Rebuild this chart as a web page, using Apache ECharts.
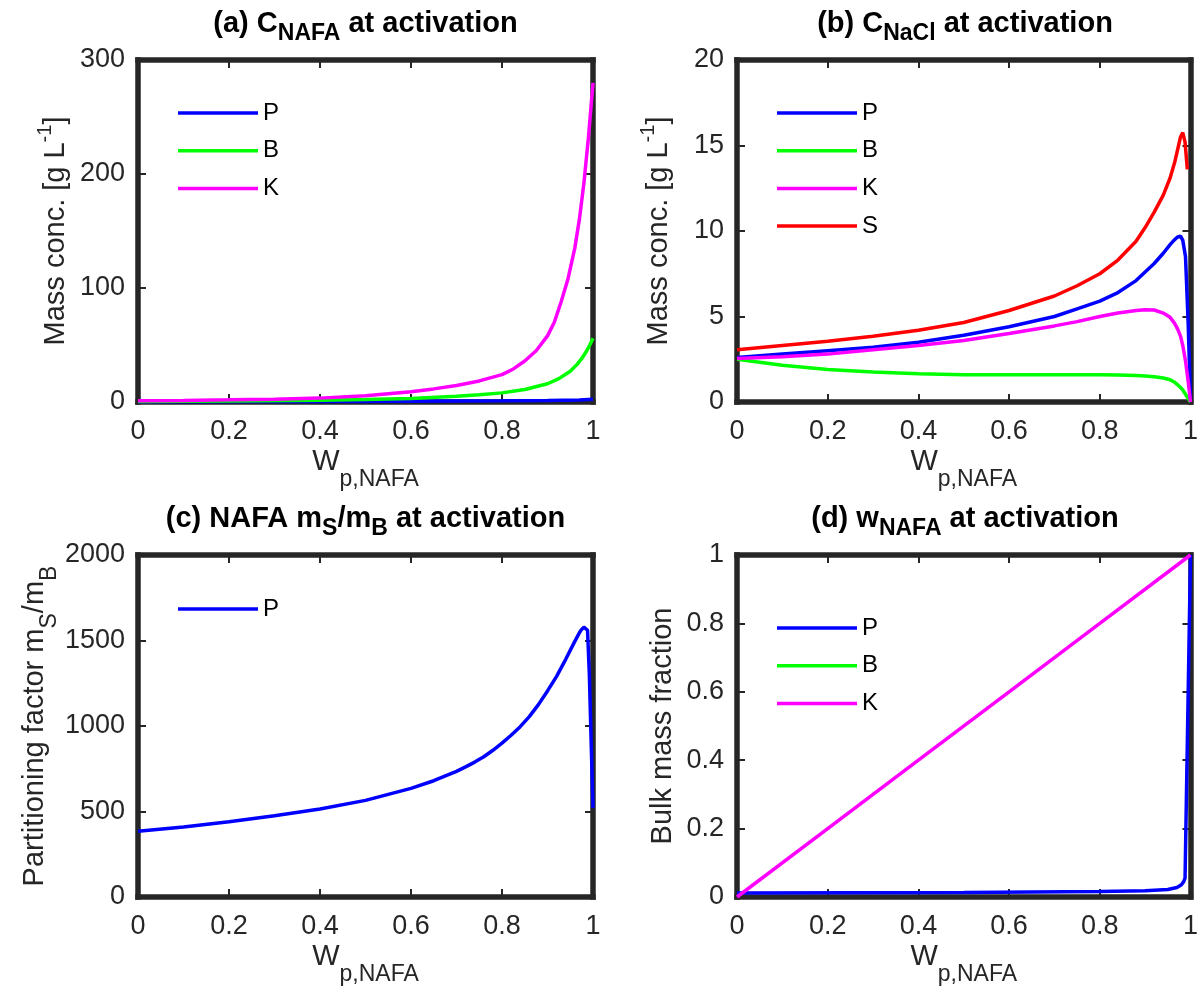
<!DOCTYPE html>
<html><head><meta charset="utf-8">
<script src="https://cdn.jsdelivr.net/npm/echarts@6/dist/echarts.min.js"></script>
<style>html,body{margin:0;padding:0;background:#fff}#c{width:1201px;height:996px}</style>
</head><body><div id="c"></div>
<script>
// ---------- tick labels ----------
const xTicks  = [0, 0.2, 0.4, 0.6, 0.8, 1];
const yTicksA = [0, 100, 200, 300];
const yTicksB = [0, 5, 10, 15, 20];
const yTicksC = [0, 500, 1000, 1500, 2000];
const yTicksD = [0, 0.2, 0.4, 0.6, 0.8, 1];

// ---------- (a) C_NAFA ----------
const aW_P = [0, 0.4, 0.6, 0.8, 0.9, 0.97, 1.0];
const aP   = [0.3, 0.5, 0.7, 1.0, 1.3, 1.8, 2.5];
const aW_B = [0, 0.2, 0.4, 0.5, 0.6, 0.7, 0.75, 0.8, 0.85, 0.9, 0.925, 0.95, 0.965, 0.975, 0.985, 0.993, 1.0];
const aB   = [0.5, 0.8, 1.5, 2.2, 3, 5, 6.3, 8, 11, 16, 20.5, 27, 33, 38, 44, 50, 56];
const aW_K = [0, 0.1, 0.2, 0.3, 0.4, 0.5, 0.6, 0.65, 0.7, 0.75, 0.8, 0.825, 0.85, 0.875, 0.9, 0.915, 0.93, 0.945, 0.96, 0.97, 0.98, 0.99, 1.0];
const aK   = [1.0, 1.4, 1.9, 2.5, 3.4, 5.5, 9, 11.5, 14.5, 18.5, 24, 29, 36, 45, 58, 70, 88, 108, 135, 160, 192, 232, 280];

// ---------- (b) C_NaCl ----------
const bW   = [0, 0.1, 0.2, 0.3, 0.4, 0.5, 0.6, 0.7, 0.75, 0.8, 0.84, 0.88, 0.9, 0.92, 0.94, 0.955, 0.965, 0.972, 0.978, 0.983, 0.989, 0.995, 1.0];
const bP   = [2.6, 2.8, 3.0, 3.2, 3.5, 3.9, 4.4, 5.0, 5.45, 5.9, 6.4, 7.1, 7.6, 8.1, 8.7, 9.2, 9.5, 9.65, 9.7, 9.45, 8.5, 4.5, 0.1];
const bB   = [2.5, 2.15, 1.9, 1.75, 1.65, 1.6, 1.6, 1.6, 1.6, 1.6, 1.58, 1.55, 1.52, 1.48, 1.4, 1.3, 1.15, 1.0, 0.85, 0.7, 0.45, 0.2, 0];
const bK   = [2.55, 2.65, 2.8, 3.05, 3.3, 3.6, 4.0, 4.45, 4.7, 5.0, 5.2, 5.35, 5.4, 5.38, 5.2, 4.95, 4.6, 4.25, 3.85, 3.3, 2.4, 1.2, 0];
const bW_S = [0, 0.1, 0.2, 0.3, 0.4, 0.5, 0.6, 0.7, 0.75, 0.8, 0.84, 0.88, 0.9, 0.92, 0.94, 0.955, 0.965, 0.972, 0.978, 0.983, 0.988, 0.993];
const bS   = [3.05, 3.3, 3.55, 3.85, 4.2, 4.65, 5.35, 6.2, 6.8, 7.5, 8.3, 9.4, 10.2, 11.1, 12.1, 13.1, 14.0, 14.8, 15.5, 15.75, 15.2, 13.6];

// ---------- (c) NAFA mS/mB ----------
const cW   = [0, 0.1, 0.2, 0.3, 0.4, 0.5, 0.55, 0.6, 0.65, 0.7, 0.72, 0.74, 0.76, 0.78, 0.8, 0.82, 0.84, 0.86, 0.88, 0.9, 0.92, 0.94, 0.96, 0.97, 0.975, 0.98, 0.984, 0.988, 0.992, 0.996, 1.0];
const cP   = [385, 410, 440, 475, 515, 565, 600, 635, 680, 735, 761, 789, 820, 858, 900, 946, 996, 1055, 1125, 1205, 1290, 1390, 1495, 1545, 1565, 1578, 1580, 1560, 1300, 900, 520];

// ---------- (d) w_NAFA ----------
const dW_P = [0, 0.5, 0.8, 0.9, 0.95, 0.97, 0.98, 0.985, 0.988, 1.0];
const dP   = [0.012, 0.013, 0.016, 0.018, 0.022, 0.028, 0.036, 0.045, 0.055, 1.0];
const dW_B = [0, 0.2, 0.4, 0.6, 0.8, 1.0];
const dB   = [0, 0, 0, 0, 0, 0];
const dW_K = [0, 0.2, 0.4, 0.6, 0.8, 1.0];
const dK   = [0, 0.2, 0.4, 0.6, 0.8, 1.0];

// ---------- styling / layout ----------
const FONT = "'Liberation Sans', Arial, Helvetica, sans-serif";
const AX = '#262626';
const COL = { P: '#0000ff', B: '#00ff00', K: '#ff00ff', S: '#ff0000' };
const GRIDS = [
  { left: 138, top: 60, width: 455, height: 342 },
  { left: 737, top: 60, width: 456, height: 342 },
  { left: 138, top: 555, width: 455, height: 342 },
  { left: 737, top: 555, width: 456, height: 342 }
];
const Y_TICKS = [yTicksA, yTicksB, yTicksC, yTicksD];

const pairs = (xs, ys) => xs.map((x, i) => [x, ys[i]]);
const tickFmt = (ticks) => (v) => {
  const t = ticks.find(t => Math.abs(t - v) < 1e-9);
  return t == null ? '' : String(t);
};

const mainTxt = { fontSize: 29, fontFamily: FONT, color: AX };
const subRich = (P) => ({
  m: Object.assign({}, mainTxt, { padding: [0, 0, P, 0] }),
  s: Object.assign({}, mainTxt, { fontSize: 23, padding: [P, 0, 0, 0] })
});
const supRich = (P) => ({
  m: Object.assign({}, mainTxt, { padding: [P, 0, 0, 0] }),
  p: Object.assign({}, mainTxt, { fontSize: 20, padding: [0, 0, P, 0] })
});

const yNames = [
  { text: '{m|Mass conc. [g L}{p|-1}{m|]}', rich: supRich(10), gap: 68 },
  { text: '{m|Mass conc. [g L}{p|-1}{m|]}', rich: supRich(10), gap: 64 },
  { text: '{m|Partitioning factor m}{s|S}{m|/m}{s|B}', rich: subRich(15), gap: 72 },
  { text: '{m|Bulk mass fraction}', rich: { m: mainTxt }, gap: 60 }
];

const xAxes = [], yAxes = [];
GRIDS.forEach((g, i) => {
  const yt = Y_TICKS[i];
  const common = {
    gridIndex: i, type: 'value', z: 3,
    axisLine: { show: true, onZero: false, lineStyle: { color: AX, width: 5.5, cap: 'square' } },
    axisTick: { show: true, inside: true, length: 8, lineStyle: { color: AX, width: 2 } },
    splitLine: { show: false }
  };
  xAxes[i] = Object.assign({}, common, {
    position: 'bottom', min: xTicks[0], max: xTicks[xTicks.length - 1], interval: xTicks[1] - xTicks[0],
    axisLabel: { color: AX, fontSize: 27, fontFamily: FONT, margin: 16, formatter: tickFmt(xTicks) },
    name: '{m|W}{s|p,NAFA}', nameLocation: 'middle', nameGap: 45,
    nameTextStyle: { rich: subRich(18) }
  });
  xAxes[i + 4] = Object.assign({}, common, {
    position: 'top', min: xTicks[0], max: xTicks[xTicks.length - 1], interval: xTicks[1] - xTicks[0],
    axisLabel: { show: false }
  });
  yAxes[i] = Object.assign({}, common, {
    position: 'left', min: yt[0], max: yt[yt.length - 1], interval: yt[1] - yt[0],
    axisLabel: { color: AX, fontSize: 27, fontFamily: FONT, margin: 13, formatter: tickFmt(yt) },
    name: yNames[i].text, nameLocation: 'middle', nameGap: yNames[i].gap,
    nameTextStyle: { rich: yNames[i].rich }
  });
  yAxes[i + 4] = Object.assign({}, common, {
    position: 'right', min: yt[0], max: yt[yt.length - 1], interval: yt[1] - yt[0],
    axisLabel: { show: false }
  });
});

const mk = (name, gi, xs, ys, z) => ({
  type: 'line', name, xAxisIndex: gi, yAxisIndex: gi,
  data: pairs(xs, ys), symbol: 'none', showSymbol: false, clip: false,
  lineStyle: { color: COL[name], width: 3.5 }, itemStyle: { color: COL[name] },
  z: z == null ? 4 : z, animation: false
});

const series = [
  mk('P', 0, aW_P, aP), mk('B', 0, aW_B, aB), mk('K', 0, aW_K, aK),
  mk('P', 1, bW, bP), mk('B', 1, bW, bB), mk('K', 1, bW, bK), mk('S', 1, bW_S, bS),
  mk('P', 2, cW, cP),
  mk('B', 3, dW_B, dB, 1), mk('P', 3, dW_P, dP), mk('K', 3, dW_K, dK)
];

const legendBase = {
  orient: 'vertical', icon: 'rect', itemWidth: 80, itemHeight: 3.5, itemGap: 13.7, selectedMode: false,
  textStyle: { fontSize: 24, color: '#000', fontFamily: FONT, lineHeight: 22 }
};
const legends = [
  Object.assign({}, legendBase, { data: ['P', 'B', 'K'], left: 173, top: 96 }),
  Object.assign({}, legendBase, { data: ['P', 'B', 'K', 'S'], left: 772, top: 96 }),
  Object.assign({}, legendBase, { data: ['P'], left: 173, top: 592 }),
  Object.assign({}, legendBase, { data: ['P', 'B', 'K'], left: 772, top: 611 })
];

const titleRich = {
  m: { fontSize: 29, fontWeight: 'bold', fontFamily: FONT, color: '#000', padding: [0, 0, 10, 0] },
  s: { fontSize: 23, fontWeight: 'bold', fontFamily: FONT, color: '#000', padding: [10, 0, 0, 0] }
};
const titles = [
  '{m|(a) C}{s|NAFA}{m| at activation}',
  '{m|(b) C}{s|NaCl}{m| at activation}',
  '{m|(c) NAFA m}{s|S}{m|/m}{s|B}{m| at activation}',
  '{m|(d) w}{s|NAFA}{m| at activation}'
];
const graphic = titles.map((t, i) => ({
  type: 'text', x: GRIDS[i].left + GRIDS[i].width / 2, y: GRIDS[i].top - 51, z: 10,
  style: { text: t, rich: titleRich, align: 'center', verticalAlign: 'top' }
}));

const chart = echarts.init(document.getElementById('c'), null, { renderer: 'canvas' });
chart.setOption({
  backgroundColor: '#fff',
  animation: false,
  textStyle: { fontFamily: FONT },
  grid: GRIDS.map(g => Object.assign({ containLabel: false }, g)),
  xAxis: xAxes, yAxis: yAxes,
  legend: legends,
  graphic: graphic,
  series: series
});
</script></body></html>
